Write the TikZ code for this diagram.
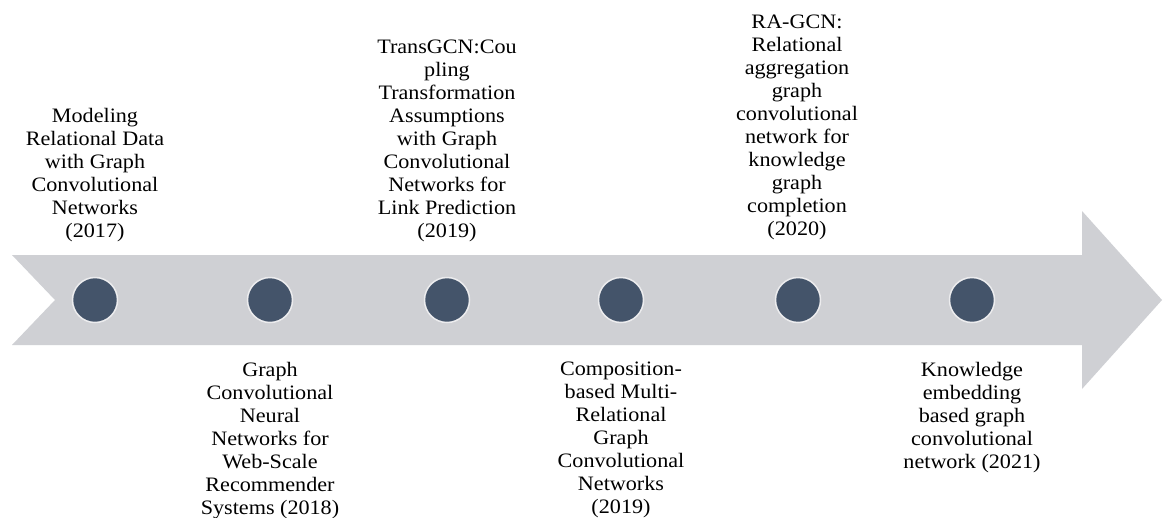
\documentclass[tikz,border=0pt]{standalone}
\usepackage{fontspec}
\setmainfont[FakeStretch=1.08]{Liberation Serif}
\definecolor{arrowgray}{HTML}{CFD0D4}
\definecolor{dotblue}{HTML}{44546A}
\definecolor{dotrim}{HTML}{ECECEE}
\begin{document}
\begin{tikzpicture}[x=1pt,y=-1pt,
  dot/.style={circle,fill=dotblue,draw=dotrim,line width=1.5pt,minimum size=45pt,inner sep=0pt},
  toplabel/.style={align=center,inner sep=0pt,anchor=south,font=\fontsize{20.5}{23}\selectfont},
  botlabel/.style={align=center,inner sep=0pt,anchor=north,font=\fontsize{20.5}{23}\selectfont}]
\useasboundingbox (0,0) rectangle (1164,517);
\fill[white] (0,0) rectangle (1164,517);
\fill[arrowgray] (12,255) -- (1082,255) -- (1082,211) -- (1162,300) -- (1082,389) -- (1082,345) -- (12,345) -- (55,300) -- cycle;
\node[dot] (d1) at (95,300) {};
\node[dot] (d2) at (270,300) {};
\node[dot] (d3) at (447,300) {};
\node[dot] (d4) at (621,300) {};
\node[dot] (d5) at (798,300) {};
\node[dot] (d6) at (972,300) {};
\node[toplabel] (t1) at (95,242) {Modeling\\Relational Data\\with Graph\\Convolutional\\Networks\\(2017)};
\node[toplabel] (t3) at (447,242) {TransGCN:Cou\\pling\\Transformation\\Assumptions\\with Graph\\Convolutional\\Networks for\\Link Prediction\\(2019)};
\node[toplabel] (t5) at (797,240) {RA-GCN:\\Relational\\aggregation\\graph\\convolutional\\network for\\knowledge\\graph\\completion\\(2020)};
\node[botlabel] (b2) at (270,362) {Graph\\Convolutional\\Neural\\Networks for\\Web-Scale\\Recommender\\Systems (2018)};
\node[botlabel] (b4) at (621,362) {Composition-\\based Multi-\\Relational\\Graph\\Convolutional\\Networks\\(2019)};
\node[botlabel] (b6) at (972,362) {Knowledge\\embedding\\based graph\\convolutional\\network (2021)};
\end{tikzpicture}
\end{document}
